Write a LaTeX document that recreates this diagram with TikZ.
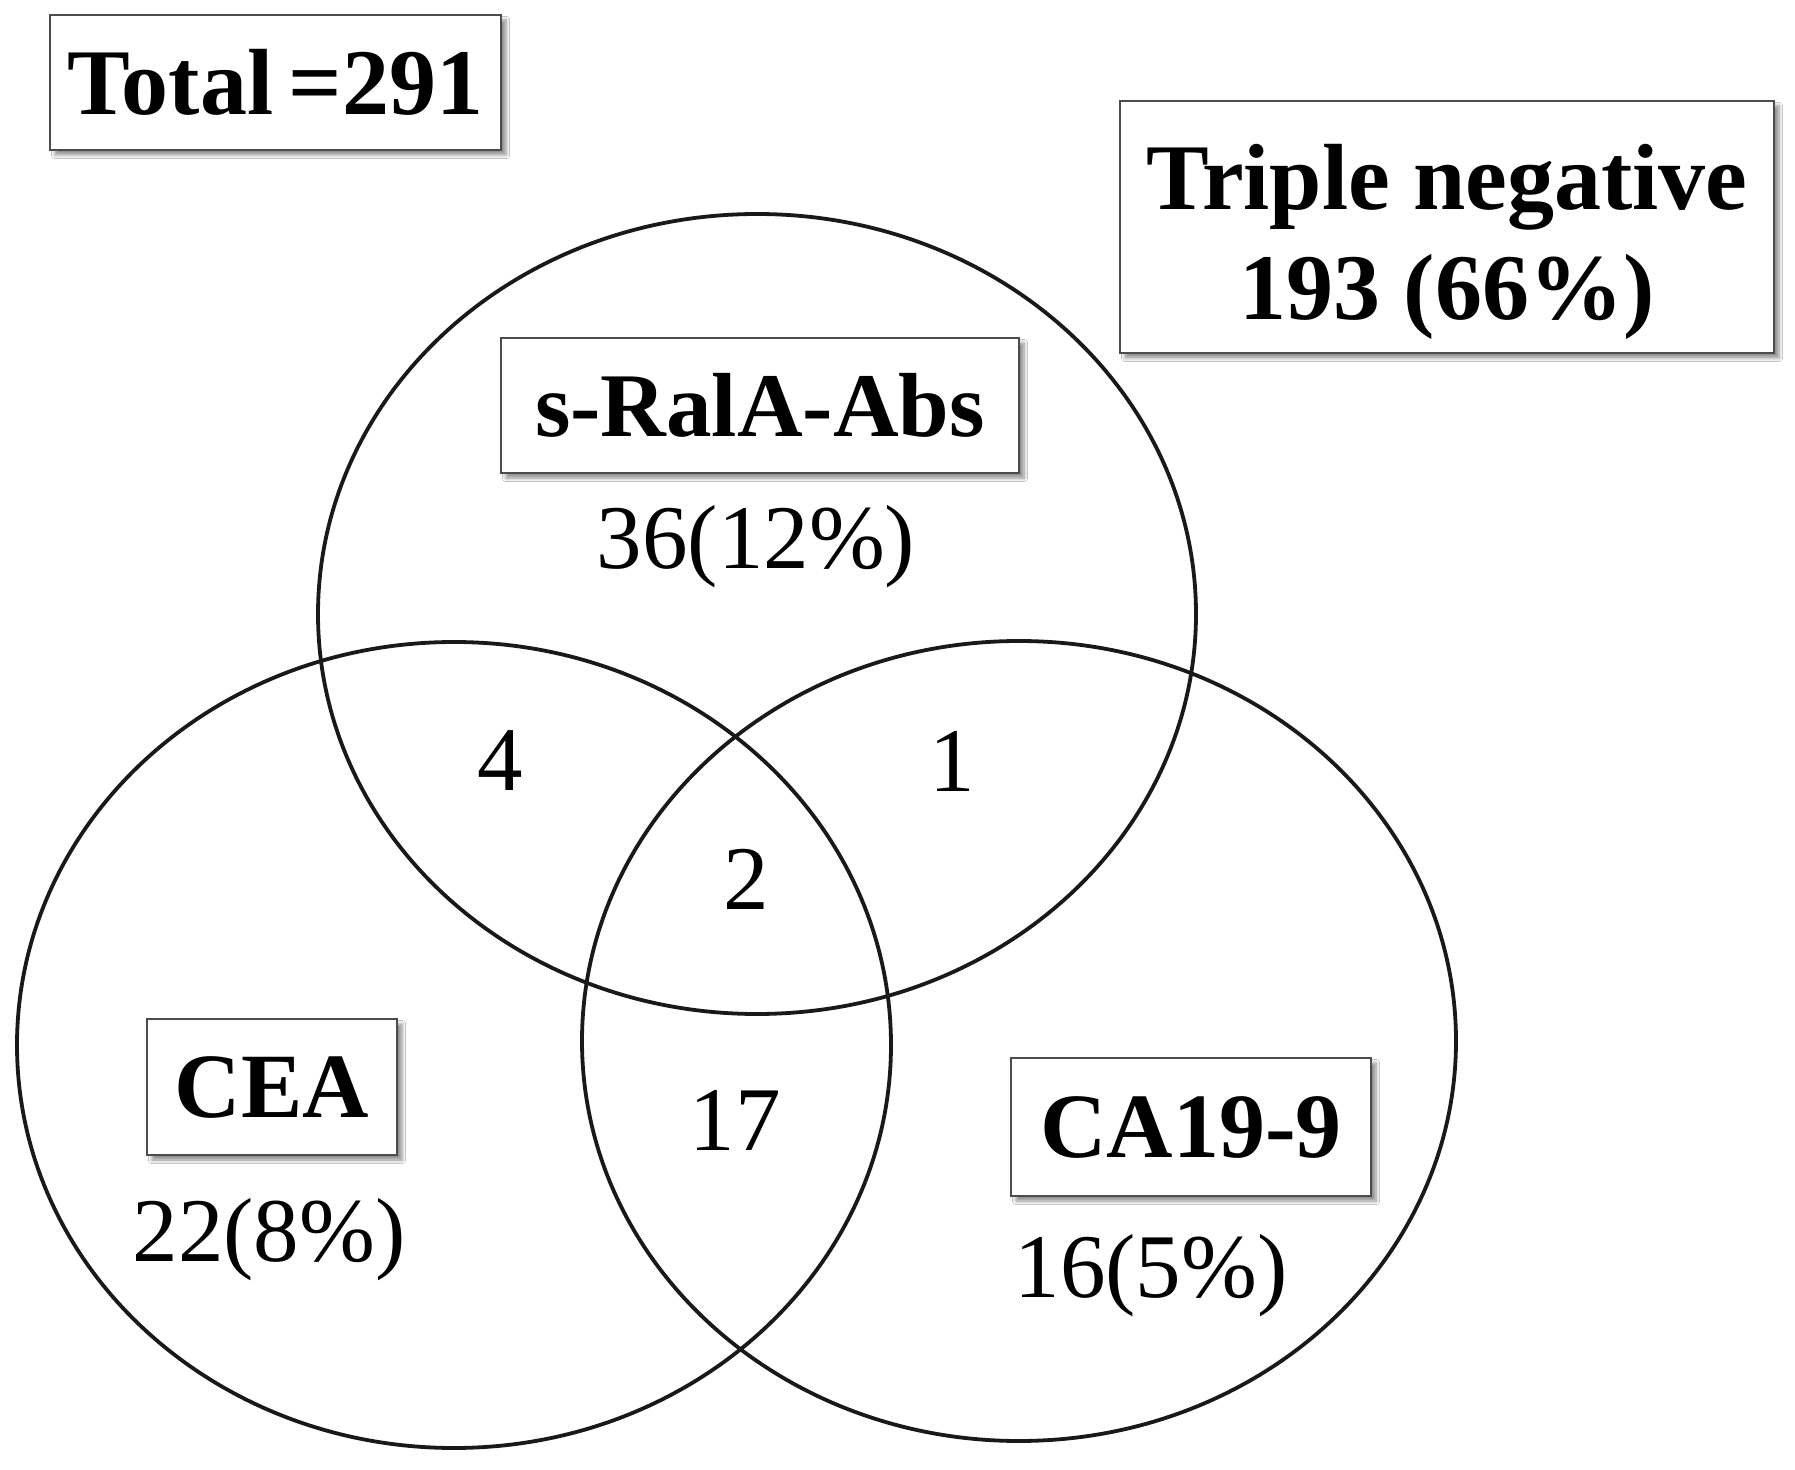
\documentclass[tikz,border=0pt]{standalone}
\usepackage{fontspec}
\setmainfont{Liberation Serif}
\usetikzlibrary{shadows.blur}
\begin{document}
\begin{tikzpicture}[x=0.5pt,y=-0.5pt,
  venn/.style={line width=1.9pt,draw=black!90},
  lbox/.style={draw=black!70,line width=1pt,fill=white,inner sep=0pt,
    blur shadow={shadow xshift=2.5pt,shadow yshift=-2.5pt,shadow blur steps=6,shadow opacity=45},
    font=\bfseries\fontsize{47}{55}\selectfont,align=center},
  cnt/.style={font=\fontsize{45.5}{50}\selectfont,inner sep=0pt}]
\useasboundingbox (0,0) rectangle (1795,1470);
\fill[white] (0,0) rectangle (1795,1470);
\coordinate (ct) at (757,614);
\coordinate (cl) at (454,1045);
\coordinate (cr) at (1019,1041);
\draw[venn] (ct) ellipse [x radius=219.5pt, y radius=200pt];
\draw[venn] (cl) ellipse [x radius=218.5pt, y radius=201.5pt];
\draw[venn] (cr) ellipse [x radius=218.5pt, y radius=200pt];
\node[lbox,minimum width=225.5pt,minimum height=67.5pt] (total) at (275.5,82.5) {Total\,=291};
\node[lbox,minimum width=327pt,minimum height=126pt] (tn) at (1447,227) {\rule{0pt}{48pt}Triple negative\\193 (66\%)};
\node[lbox,minimum width=259pt,minimum height=67.5pt,font=\bfseries\fontsize{45.5}{50}\selectfont] (ral) at (760,405.5) {s-RalA-Abs};
\node[lbox,minimum width=125pt,minimum height=68pt,font=\bfseries\fontsize{46}{50}\selectfont] (cea) at (272,1087) {CEA};
\node[lbox,minimum width=180pt,minimum height=69pt,font=\bfseries\fontsize{46}{50}\selectfont] (ca) at (1191,1127) {CA19-9};
\node[cnt] (n36) at (756,547) {36(12\%)};
\node[cnt] (n4) at (500,761) {4};
\node[cnt] (n1) at (952,761) {1};
\node[cnt] (n2) at (746,879) {2};
\node[cnt] (n17) at (735,1120) {17};
\node[cnt] (n22) at (269,1240) {22(8\%)};
\node[cnt] (n16) at (1151,1276) {16(5\%)};
\end{tikzpicture}
\end{document}
